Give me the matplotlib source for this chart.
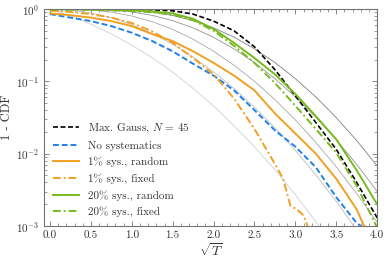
import matplotlib
matplotlib.use("Agg")
import matplotlib.pyplot as plt
import numpy as np

plt.rcParams['font.family'] = 'serif'
plt.rcParams['font.serif'] = ['cmr10', 'DejaVu Serif']
plt.rcParams['mathtext.fontset'] = 'cm'
plt.rcParams['axes.formatter.use_mathtext'] = True
plt.rcParams['axes.unicode_minus'] = False

# common sqrt(T) grid
x = [0.0, 0.25, 0.5, 0.75, 1.0, 1.25, 1.5, 1.75, 2.0, 2.25, 2.5, 2.75, 3.0, 3.25, 3.5, 3.75, 4.0]

# thin gray reference curves (lightest to darkest)
gray1 = [1.0, 0.80, 0.617, 0.453, 0.317, 0.211, 0.134, 0.080, 0.0455, 0.0244, 0.0124, 0.0060, 0.0027, 0.00115, 0.00047, 0.00018, 0.00006]
gray2 = [1.0, 0.969, 0.883, 0.755, 0.607, 0.458, 0.325, 0.216, 0.135, 0.0796, 0.0439, 0.0228, 0.0111, 0.0051, 0.0022, 0.00088, 0.00034]
gray3 = [1.0, 0.996, 0.969, 0.905, 0.801, 0.668, 0.522, 0.382, 0.261, 0.167, 0.100, 0.056, 0.0293, 0.0143, 0.0066, 0.0028, 0.00113]
gray4 = [1.0, 0.9995, 0.993, 0.967, 0.910, 0.816, 0.690, 0.548, 0.406, 0.281, 0.181, 0.109, 0.0611, 0.0320, 0.0156, 0.0071, 0.0030]
gray5 = [1.0, 0.9999, 0.998, 0.990, 0.963, 0.906, 0.814, 0.691, 0.549, 0.409, 0.282, 0.182, 0.109, 0.0608, 0.0315, 0.0152, 0.0068]
grays = [gray1, gray2, gray3, gray4, gray5]
gray_cols = ['0.82', '0.74', '0.66', '0.58', '0.5']

max_gauss = [1.0, 1.0, 1.0, 0.998, 0.99, 0.975, 0.945, 0.85, 0.68, 0.50, 0.30, 0.145, 0.063, 0.027, 0.0115, 0.0040, 0.0013]

x_blue = [0.0, 0.25, 0.5, 0.75, 1.0, 1.25, 1.5, 1.75, 2.0, 2.25, 2.5, 2.75, 3.0, 3.25, 3.5, 3.75, 3.8]
no_sys = [0.85, 0.76, 0.68, 0.58, 0.47, 0.36, 0.26, 0.175, 0.12, 0.075, 0.04, 0.021, 0.0125, 0.0065, 0.0025, 0.0011, 0.001]

x_or = [0.0, 0.25, 0.5, 0.75, 1.0, 1.25, 1.5, 1.75, 2.0, 2.25, 2.5, 2.75, 3.0, 3.25, 3.5, 3.75, 3.84]
sys1_random = [0.87, 0.82, 0.76, 0.68, 0.58, 0.45, 0.36, 0.26, 0.18, 0.12, 0.075, 0.036, 0.019, 0.010, 0.0045, 0.0017, 0.001]

x_ord = [0.0, 0.25, 0.5, 0.75, 1.0, 1.25, 1.5, 1.75, 2.0, 2.25, 2.5, 2.75, 2.85, 2.94, 3.02, 3.1, 3.15]
sys1_fixed = [0.95, 0.91, 0.85, 0.76, 0.64, 0.49, 0.34, 0.21, 0.125, 0.058, 0.022, 0.0072, 0.0045, 0.0019, 0.0017, 0.0014, 0.001]

sys20_random = [0.99, 0.99, 0.985, 0.975, 0.955, 0.925, 0.87, 0.73, 0.53, 0.34, 0.21, 0.125, 0.067, 0.033, 0.0158, 0.0059, 0.0020]
sys20_fixed = [0.985, 0.98, 0.975, 0.96, 0.94, 0.90, 0.84, 0.70, 0.50, 0.31, 0.18, 0.095, 0.046, 0.022, 0.0103, 0.0036, 0.00095]

fig = plt.figure(figsize=(3.9, 2.61), dpi=100)
ax = fig.add_axes([0.1136, 0.134, 0.8534, 0.8315])

for g, c in zip(grays, gray_cols):
    ax.plot(x, g, color=c, lw=0.6)

blue = '#2080e8'
orange = '#f0a024'
green = '#77bb1e'

ax.plot(x, max_gauss, color='black', lw=1.2, ls=(0, (3, 1.5)), label=r'Max. Gauss, $N$ = 45')
ax.plot(x_blue, no_sys, color=blue, lw=1.4, ls=(0, (3, 1.5)), label='No systematics')
ax.plot(x_or, sys1_random, color=orange, lw=1.4, label=r'1% sys., random')
ax.plot(x_ord, sys1_fixed, color=orange, lw=1.4, ls=(0, (4, 1.5, 1, 1.5)), label=r'1% sys., fixed')
ax.plot(x, sys20_random, color=green, lw=1.4, label=r'20% sys., random')
ax.plot(x, sys20_fixed, color=green, lw=1.4, ls=(0, (4, 1.5, 1, 1.5)), label=r'20% sys., fixed')

ax.set_yscale('log')
ax.set_xlim(-0.07, 4.0)
ax.set_ylim(1e-3, 1)
ax.set_xticks([0.0, 0.5, 1.0, 1.5, 2.0, 2.5, 3.0, 3.5, 4.0])
ax.set_xticks(np.arange(0, 4.01, 0.1), minor=True)
ax.set_xticklabels(['0.0', '0.5', '1.0', '1.5', '2.0', '2.5', '3.0', '3.5', '4.0'])
ax.tick_params(which='both', direction='in', top=True, right=True, colors='0.45', labelcolor='0.2', labelsize=8)
ax.tick_params(which='major', length=3.5, width=0.6)
ax.tick_params(which='minor', length=2, width=0.5)
for s in ax.spines.values():
    s.set_color('0.45')
    s.set_linewidth(0.8)

ax.set_xlabel(r'$\sqrt{T}$', fontsize=10, color='0.2', labelpad=1)
ax.set_ylabel('1 - CDF', fontsize=9, color='0.2', labelpad=2)

ax.legend(loc='lower left', frameon=False, fontsize=8, handlelength=2.3,
          labelspacing=0.52, borderaxespad=0.4, labelcolor='0.2')

fig.savefig('out.png', dpi=100)
